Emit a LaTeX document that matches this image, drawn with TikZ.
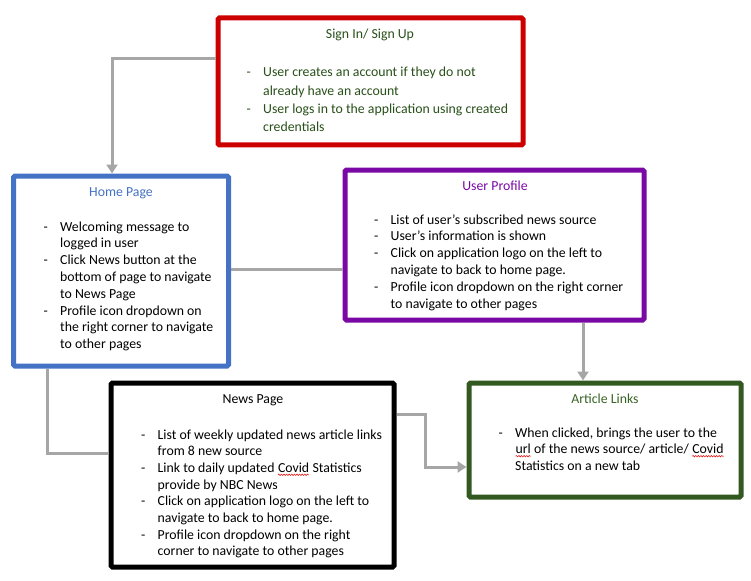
\documentclass[tikz,border=0pt]{standalone}
\usepackage{fontspec}
\setmainfont{Carlito}
\usetikzlibrary{arrows.meta,decorations.pathmorphing}
\definecolor{cred}{RGB}{205,0,0}
\definecolor{cblue}{RGB}{68,114,196}
\definecolor{cpurple}{RGB}{122,8,165}
\definecolor{cgreen}{RGB}{50,90,32}
\definecolor{tgreen}{RGB}{40,80,25}
\definecolor{agreen}{RGB}{56,100,36}
\definecolor{cgray}{RGB}{166,166,166}
\definecolor{squig}{RGB}{230,30,30}
\newcommand\redwave[2]{\tikz[baseline=(#1.base),x=1pt,y=1pt]{\node[inner sep=0pt,outer sep=0pt] (#1) {#2};
  \draw[squig, line width=0.6pt, decorate, decoration={snake, amplitude=0.7pt, segment length=2.6pt}] ([yshift=-2.4pt]#1.base west) -- ([yshift=-2.4pt]#1.base east);}}
\newcommand\bl[1]{\par\noindent\hangindent=16.5pt\hangafter=1\makebox[16.5pt][l]{-}#1}
\newcommand\bodytext[2]{\vtop{\hsize=320pt\fontsize{13.8}{#1}\selectfont #2}}
\tikzset{
  box/.style={draw, line width=5pt, rounded corners=1.5pt, fill=white, inner sep=0pt},
  title/.style={anchor=base, inner sep=0pt, font=\fontsize{13.8}{16}\selectfont},
  body/.style={anchor=base west, inner sep=0pt},
  conn/.style={draw=cgray, line width=3pt},
  arr/.style={conn, -{Triangle[width=11pt,length=9pt]}},
}
\begin{document}
\begin{tikzpicture}[x=1pt,y=-1pt]
\useasboundingbox (0,0) rectangle (751,580);
% boxes
\node[box, draw=cred, minimum width=305pt, minimum height=127pt] (signin) at (370.5,81.5) {};
\node[box, draw=cblue, minimum width=215pt, minimum height=190pt] (home) at (121,271) {};
\node[box, draw=cpurple, minimum width=299pt, minimum height=150pt] (profile) at (494.5,245) {};
\node[box, draw=black, minimum width=283pt, minimum height=184pt] (news) at (252.5,475) {};
\node[box, draw=cgreen, minimum width=272pt, minimum height=114pt] (article) at (605,440) {};
% connectors
\draw[arr] ([yshift=22.5pt]signin.west) -| ([xshift=-9pt]home.north);
\draw[conn] ([yshift=2pt]home.east) -- ([yshift=2pt]home.east -| profile.west);
\draw[arr] ([xshift=88.5pt]profile.south) -- ([xshift=88.5pt]profile.south |- article.north);
\draw[conn] ([xshift=-74pt]home.south) |- ([yshift=22pt]news.west);
\draw[arr] ([yshift=61pt]news.east) -- ++(28.5,0) |- ([yshift=-27pt]article.west);
% titles
\node[title, text=tgreen] (t1) at (370,39) {Sign In/ Sign Up};
\node[title, text=cblue] (t2) at (121,196) {Home Page};
\node[title, text=cpurple] (t3) at (495,190) {User Profile};
\node[title] (t4) at (253,403) {News Page};
\node[title, text=agreen] (t5) at (605,403) {Article Links};
% bodies
\node[body, text=tgreen] (b1) at (246.5,77) {\bodytext{18.3}{%
\bl{User creates an account if they do not\newline already have an account}%
\bl{User logs in to the application using created\newline credentials}}};
\node[body] (b2) at (43.5,231) {\bodytext{16.8}{%
\bl{Welcoming message to\newline logged in user}%
\bl{Click News button at the\newline bottom of page to navigate\newline to News Page}%
\bl{Profile icon dropdown on\newline the right corner to navigate\newline to other pages}}};
\node[body] (b3) at (374,224) {\bodytext{16.8}{%
\bl{List of user’s subscribed news source}%
\bl{User’s information is shown}%
\bl{Click on application logo on the left to\newline navigate to back to home page.}%
\bl{Profile icon dropdown on the right corner\newline to navigate to other pages}}};
\node[body] (b4) at (141,439) {\bodytext{16.7}{%
\bl{List of weekly updated news article links\newline from 8 new source}%
\bl{Link to daily updated \redwave{wa}{Covid} Statistics\newline provide by NBC News}%
\bl{Click on application logo on the left to\newline navigate to back to home page.}%
\bl{Profile icon dropdown on the right\newline corner to navigate to other pages}}};
\node[body] (b5) at (498.5,437) {\bodytext{16.8}{%
\bl{When clicked, brings the user to the\newline \redwave{wb}{url} of the news source/ article/ \redwave{wc}{Covid}\newline Statistics on a new tab}}};
\end{tikzpicture}
\end{document}
